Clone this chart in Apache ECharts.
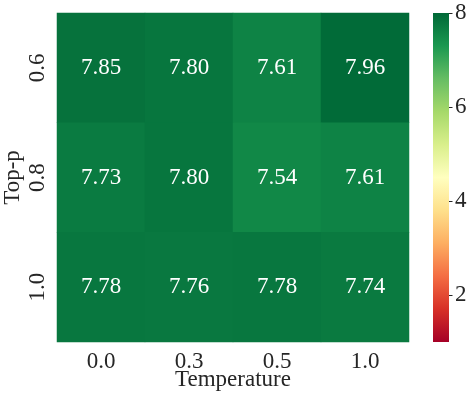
<!DOCTYPE html>
<html>
<head>
<meta charset="utf-8">
<script src="https://cdn.jsdelivr.net/npm/echarts@6/dist/echarts.min.js"></script>
<style>html,body{margin:0;padding:0;background:#fff}#c{width:472px;height:399px}</style>
</head>
<body>
<div id="c"></div>
<script>
var temperatures = ['0.0', '0.3', '0.5', '1.0'];
var topPs = ['0.6', '0.8', '1.0'];
var row06 = [7.85, 7.80, 7.61, 7.96];
var row08 = [7.73, 7.80, 7.54, 7.61];
var row10 = [7.78, 7.76, 7.78, 7.74];
var colorTicks = [2, 4, 6, 8];
var vmin = 1, vmax = 8;
var RdYlGn = ['#a50026','#d73027','#f46d43','#fdae61','#fee08b','#ffffbf','#d9ef8b','#a6d96a','#66bd63','#1a9850','#006837'];

var rows = [row06, row08, row10];
var data = [];
rows.forEach(function (r, yi) {
  r.forEach(function (v, xi) { data.push([xi, yi, v]); });
});

var FONT = '"Liberation Serif", "Times New Roman", serif';
var TXT = '#262626';
var chart = echarts.init(document.getElementById('c'), null, {renderer: 'canvas'});
var stops = RdYlGn.slice().reverse().map(function (c, i) { return {offset: i / 10, color: c}; });

chart.setOption({
  animation: false,
  textStyle: {fontFamily: FONT},
  grid: [
    {left: 57, right: 63, top: 13, bottom: 57, containLabel: false, outerBoundsMode: 'none'},
    {left: 433, width: 16, top: 13, bottom: 57, containLabel: false, outerBoundsMode: 'none'}
  ],
  xAxis: [
    {type: 'category', gridIndex: 0, data: temperatures,
     name: 'Temperature', nameLocation: 'middle', nameGap: 26, nameMoveOverlap: false,
     nameTextStyle: {fontFamily: FONT, fontSize: 23, color: TXT},
     axisLine: {show: false}, axisTick: {show: false}, splitLine: {show: false},
     axisLabel: {fontFamily: FONT, fontSize: 23, color: TXT, margin: 8}},
    {type: 'category', gridIndex: 1, data: ['c'], show: false}
  ],
  yAxis: [
    {type: 'category', gridIndex: 0, data: topPs, inverse: true,
     name: 'Top-p', nameLocation: 'middle', nameGap: 33, nameRotate: 90, nameMoveOverlap: false,
     nameTextStyle: {fontFamily: FONT, fontSize: 23, color: TXT},
     axisLine: {show: false}, axisTick: {show: false}, splitLine: {show: false},
     axisLabel: {fontFamily: FONT, fontSize: 23, color: TXT, rotate: 90, margin: 8}},
    {type: 'value', gridIndex: 1, min: vmin, max: vmax, position: 'right',
     axisLine: {show: false}, splitLine: {show: false},
     axisTick: {show: true, length: 3.5, lineStyle: {color: TXT, width: 1}, customValues: colorTicks},
     axisLabel: {fontFamily: FONT, fontSize: 23, color: TXT, margin: 6, customValues: colorTicks}}
  ],
  visualMap: {
    type: 'continuous', show: false, min: vmin, max: vmax, seriesIndex: 0, dimension: 2,
    inRange: {color: RdYlGn}
  },
  series: [
    {type: 'heatmap', xAxisIndex: 0, yAxisIndex: 0, data: data,
     itemStyle: {borderWidth: 0},
     label: {show: true, fontFamily: FONT, fontSize: 23, color: '#fff',
       formatter: function (p) { return p.value[2].toFixed(2); }}},
    {type: 'custom', xAxisIndex: 1, yAxisIndex: 1, data: [[0, vmin, vmax]],
     renderItem: function (params, api) {
       var top = api.coord([api.value(0), api.value(2)]);
       var bot = api.coord([api.value(0), api.value(1)]);
       var w = api.size([1, 0])[0];
       return {type: 'rect', shape: {x: top[0] - w / 2, y: top[1], width: w, height: bot[1] - top[1]},
         style: {fill: new echarts.graphic.LinearGradient(0, 0, 0, 1, stops)}};
     }}
  ]
});
</script>
</body>
</html>
